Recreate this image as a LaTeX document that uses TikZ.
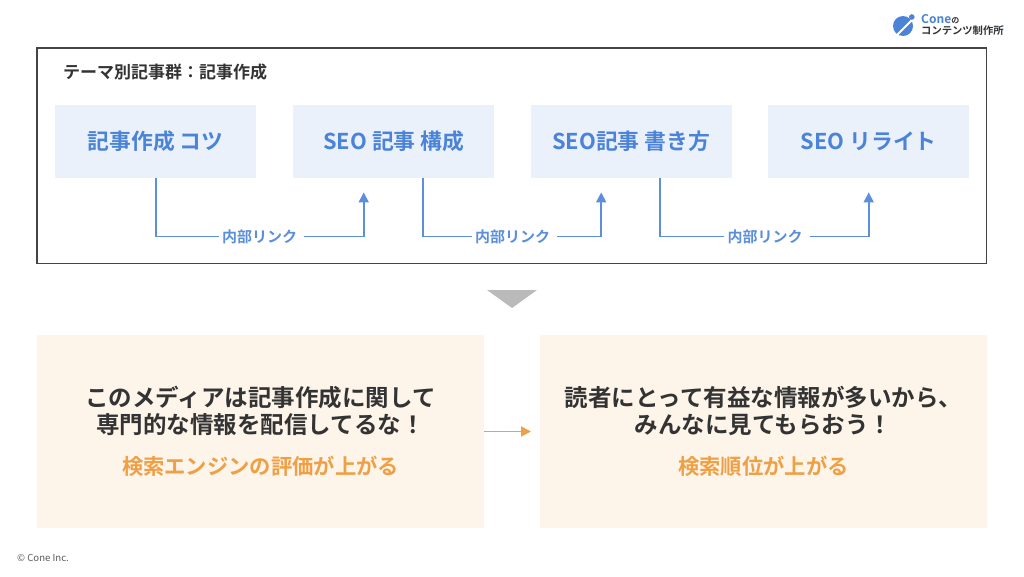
\documentclass[tikz,border=0pt]{standalone}
\usepackage{fontspec}
\setmainfont{Noto Sans CJK JP}[BoldFont={Noto Sans CJK JP Bold}]
\setsansfont{Noto Sans CJK JP}[BoldFont={Noto Sans CJK JP Bold}]
\usetikzlibrary{arrows.meta,calc}
\definecolor{blueT}{HTML}{4A83D8}
\definecolor{blueL}{HTML}{5B8FDB}
\definecolor{blueF}{HTML}{EAF1FA}
\definecolor{creamF}{HTML}{FDF4EA}
\definecolor{orangeT}{HTML}{EFA045}
\definecolor{darkT}{HTML}{333333}
\definecolor{frameC}{HTML}{444444}
\definecolor{triC}{HTML}{BABABA}
\tikzset{
  x=1pt,y=-1pt,
  topicbox/.style={fill=blueF,minimum width=201pt,minimum height=73pt,inner sep=0pt,text=blueT,font=\fontsize{21.8}{26}\selectfont\bfseries},
  cream/.style={fill=creamF,inner sep=0pt},
  linklabel/.style={text=blueL,font=\fontsize{15}{17}\selectfont\bfseries,inner sep=0pt,minimum width=75pt,minimum height=16pt},
  linkline/.style={draw=blueL,line width=1.7pt},
  linkarrow/.style={linkline,-{Triangle[length=10pt,width=10pt]}},
  headline/.style={text=darkT,font=\fontsize{23.5}{27}\selectfont\bfseries,align=center,inner sep=0pt},
  subline/.style={text=orangeT,font=\fontsize{21.3}{25}\selectfont\bfseries,inner sep=0pt},
}
\begin{document}
\begin{tikzpicture}
\useasboundingbox (0,0) rectangle (1024,576);
\fill[white] (0,0) rectangle (1024,576);
% frame
\node[draw=frameC,line width=1.8pt,minimum width=949.5pt,minimum height=215.5pt,inner sep=0pt,anchor=north west] (frame) at (36,47) {};
\node[anchor=west,inner sep=0pt,text=darkT,font=\fontsize{17}{20}\selectfont\bfseries] (title) at (63,72) {テーマ別記事群：記事作成};
% topic boxes
\node[topicbox,anchor=north west] (a) at (55,105) {記事作成 コツ};
\node[topicbox,anchor=north west] (b) at (293,105) {SEO 記事 構成};
\node[topicbox,anchor=north west] (c) at (530.5,105) {SEO記事 書き方};
\node[topicbox,anchor=north west] (d) at (768,105) {SEO リライト};
% labels
\node[linklabel] (l1) at (259.5,236.5) {内部リンク};
\node[linklabel] (l2) at (512.5,236.5) {内部リンク};
\node[linklabel] (l3) at (765,236.5) {内部リンク};
% connectors
\coordinate (a1) at ($(a.south)+(0,0)$);
\coordinate (b0) at ($(b.south)+(-30,14)$);
\coordinate (b1) at ($(b.south)+(29.5,0)$);
\coordinate (c0) at ($(c.south)+(-30,14)$);
\coordinate (c1) at ($(c.south)+(29,0)$);
\coordinate (d0) at ($(d.south)+(0,14)$);
\draw[linkline] (a1) |- ($(l1.west)+(-3,0)$);
\draw[linkarrow] ($(l1.east)+(7,0)$) -| (b0);
\draw[linkline] (b1) |- ($(l2.west)+(-3,0)$);
\draw[linkarrow] ($(l2.east)+(7,0)$) -| (c0);
\draw[linkline] (c1) |- ($(l3.west)+(-3,0)$);
\draw[linkarrow] ($(l3.east)+(7,0)$) -| (d0);
% triangle
\fill[triC] (487,290) -- (537,290) -- (512,308) -- cycle;
% cream panels
\node[cream,anchor=north west,minimum width=447pt,minimum height=193pt] (p) at (37,335) {};
\node[cream,anchor=north west,minimum width=447pt,minimum height=193pt] (q) at (540,335) {};
\node[headline] (h1) at (260.5,411) {このメディアは記事作成に関して\\専門的な情報を配信してるな！};
\node[subline] (s1) at (260.5,466) {検索エンジンの評価が上がる};
\node[headline] (h2) at (763.5,411) {読者にとって有益な情報が多いから、\\みんなに見てもらおう！};
\node[subline] (s2) at (763.5,466) {検索順位が上がる};
\draw[draw=orangeT,line width=1.7pt,-{Triangle[length=10pt,width=10pt]}] (p.east |- 0,431.5) -- (531,431.5);
% logo
\fill[blueT] (903,26) circle (10);
\draw[white,line width=2pt] (897,35) -- (912,20);
\fill[blueT] (911.8,17) circle (2.8);
\node[anchor=west,inner sep=0pt,text=blueT,font=\fontsize{12}{14}\selectfont\bfseries] (cone) at (921,19.5) {Cone\fontsize{8}{10}\selectfont\color{darkT}の};
\node[anchor=west,inner sep=0pt,text=darkT,font=\fontsize{10.3}{12}\selectfont\bfseries] (seisaku) at (921,31) {コンテンツ制作所};
\fill[blueT] (1002.5,26) circle (1);
% copyright
\node[anchor=west,inner sep=0pt,text=darkT!80,font=\fontsize{9.6}{11}\selectfont] (copy) at (17,558) {© Cone Inc.};
\end{tikzpicture}
\end{document}
